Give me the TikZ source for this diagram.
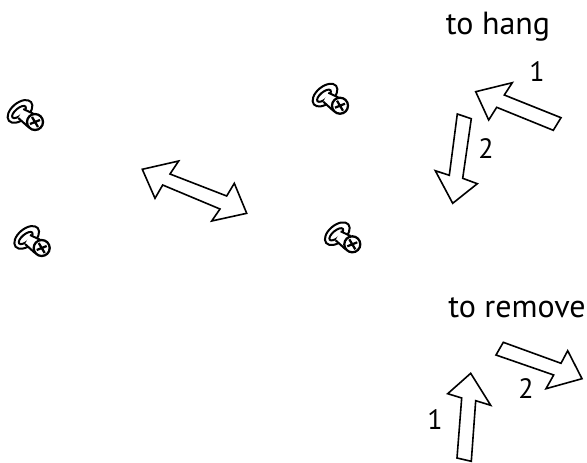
\documentclass[tikz,border=0pt]{standalone}
\usepackage{fontspec}
\setmainfont{PT Sans}
\tikzset{
    outline/.style={draw=black, line width=1.2pt, line join=miter, fill=white},
    caption/.style={font=\fontsize{24}{26}\selectfont, inner sep=0pt, anchor=base},
    stepnum/.style={font=\fontsize{21}{23}\selectfont, inner sep=0pt, anchor=base},
    screw/.pic={
        \draw[line width=1.5pt] (-15,-10.6) ellipse [x radius=14.5, y radius=8.5, rotate=40];
        \draw[line width=1.5pt] (-16,-10) ellipse [x radius=8.5, y radius=3.6, rotate=40];
        \fill[white] (-11.7,-13) -- (-1.7,-8.3) -- (-6.7,5) -- (-16.7,-4) -- cycle;
        \draw[line width=1.5pt] (-11.7,-13) -- (-1.7,-8.3) (-16.7,-4) -- (-6.7,5);
        \draw[line width=1.7pt, fill=white] (0,0) circle [radius=8];
        \draw[line width=1.7pt] (-5,2) -- (5,-2) (-3,-5) -- (3,5);
    }
}
\begin{document}
\begin{tikzpicture}[x=0.75pt, y=-0.75pt]
    \useasboundingbox (0,0) rectangle (587,462);
    % screws
    \pic at (35,122) {screw};
    \pic at (41.7,248) {screw};
    \pic at (340,105.7) {screw};
    \pic at (352.3,244.3) {screw};
    % double arrow
    \draw[outline] (142.3,169.3) -- (178.7,161) -- (170,174) -- (226.7,196) -- (234.3,183.3) -- (246.7,213.3) -- (211.7,221) -- (220,209) -- (162.7,185) -- (155,198.3) -- cycle;
    % to hang
    \node[caption] (hang) at (498,34) {to hang};
    \draw[outline] (475.7,91.7) -- (512.3,82.7) -- (504.3,95) -- (561,117.7) -- (553.3,130.3) -- (496.7,107.3) -- (488.7,120) -- cycle;
    \draw[outline] (457.3,114) -- (471.3,118.7) -- (462.7,178.3) -- (477.3,183.7) -- (452.7,203.3) -- (435.3,170.7) -- (449.3,175.3) -- cycle;
    \node[stepnum] (hangone) at (537,81) {1};
    \node[stepnum] (hangtwo) at (486,158) {2};
    % to remove
    \node[caption] (remove) at (517,317) {to remove};
    \draw[outline] (470.7,373.3) -- (490.7,405.3) -- (475.7,400.7) -- (471.3,461.3) -- (457,458) -- (461.7,398) -- (447.7,393.7) -- cycle;
    \draw[outline] (503.3,342.3) -- (561,363.3) -- (567.7,350.7) -- (582,378.7) -- (546,388.7) -- (553.7,375) -- (496,355) -- cycle;
    \node[stepnum] (removeone) at (435,429) {1};
    \node[stepnum] (removetwo) at (526,398) {2};
\end{tikzpicture}
\end{document}
